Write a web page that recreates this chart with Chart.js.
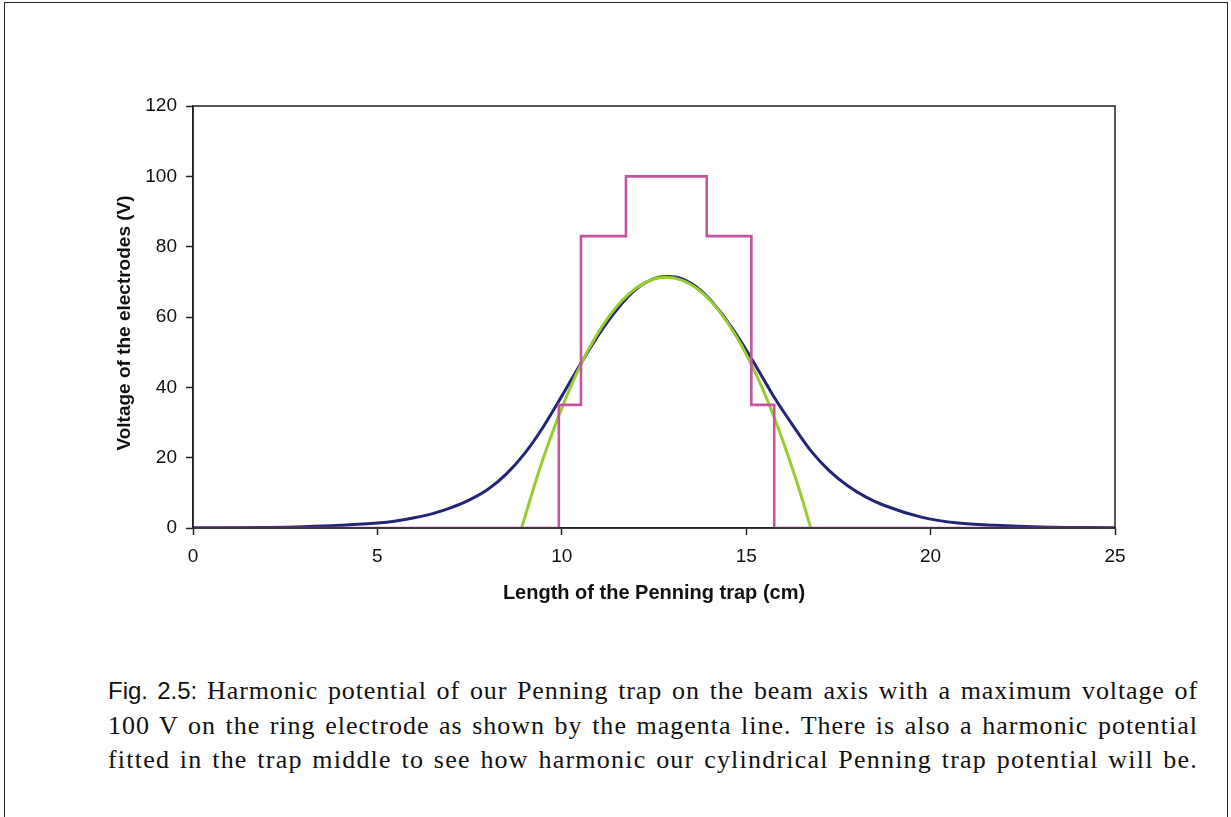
<!DOCTYPE html>
<html>
<head>
<meta charset="utf-8">
<script src="https://cdn.jsdelivr.net/npm/chart.js@4.4.1/dist/chart.umd.min.js"></script>
<style>
  html, body { margin: 0; padding: 0; background: #fff; }
  body { width: 1231px; height: 817px; position: relative; overflow: hidden; }
  #frame { position: absolute; left: 4px; top: 2px; width: 1224px; height: 840px; border: 1.5px solid #222; box-sizing: border-box; }
  #chart { position: absolute; left: 0; top: 0; }
  #caption { position: absolute; left: 108px; top: 674px; width: 1090px; font-family: "Liberation Serif", serif; font-size: 26px; color: #111; }
  #caption div { height: 34.5px; line-height: 34.5px; text-align: justify; text-align-last: justify; white-space: nowrap; }
  #caption span.in { display: inline-block; }
  .sans { font-family: "Liberation Sans", Arial, sans-serif; font-size: 24px; letter-spacing: 0; }
</style>
</head>
<body>
<div id="frame"></div>
<canvas id="chart" width="1231" height="640"></canvas>
<div id="caption">
  <div><span class="sans">Fig. 2.5:</span> Harmonic potential of our Penning trap on the beam axis with a maximum voltage of</div>
  <div>100 V on the ring electrode as shown by the magenta line. There is also a harmonic potential</div>
  <div>fitted in the trap middle to see how harmonic our cylindrical Penning trap potential will be.</div>
</div>
<script>
// ---- data ----
const xTicks = [0, 5, 10, 15, 20, 25];
const yTicks = [0, 20, 40, 60, 80, 100, 120];

// electrode voltages (magenta step line)
const electrodeX = [0, 9.92, 9.92, 10.52, 10.52, 11.74, 11.74, 13.93, 13.93, 15.14, 15.14, 15.76, 15.76, 25];
const electrodeY = [0, 0, 35, 35, 83, 83, 100, 100, 83, 83, 35, 35, 0, 0];

// potential on the beam axis (dark blue curve)
const potentialX = [0, 2, 3, 4, 5, 5.5, 6, 6.5, 7, 7.5, 8, 8.5, 9, 9.5, 10, 10.5, 11, 11.5, 12, 12.5, 12.87,
                    13.25, 13.75, 14.25, 14.75, 15.25, 15.75, 16.25, 16.75, 17.25, 17.75, 18.25, 18.75, 19.75, 20.75, 21.75, 23, 25];
const potentialY = [0.05, 0.15, 0.35, 0.75, 1.4, 2.0, 2.9, 4.1, 5.8, 8.0, 11.0, 15.4, 21.3, 28.8, 37.5, 46.5, 55.0, 62.2, 67.8, 70.9, 71.5,
                    70.9, 67.7, 62.1, 54.8, 46.3, 37.3, 29.4, 22.0, 16.3, 12.0, 8.8, 6.4, 3.1, 1.4, 0.75, 0.3, 0.1];

// fitted harmonic potential (green curve)
const harmonicX = [8.91, 9.25, 9.5, 10, 10.5, 11, 11.5, 12, 12.5, 12.83, 13.25, 13.75, 14.25, 14.75, 15.25, 15.75, 16.25, 16.5, 16.75];
const harmonicY = [0, 11.8, 19.9, 34.1, 46.1, 55.8, 63.1, 68.1, 70.8, 71.3, 70.5, 67.4, 61.9, 54.2, 44.1, 31.7, 17.0, 8.8, 0];

const xTitle = "Length of the Penning trap (cm)";
const yTitle = "Voltage of the electrodes (V)";

function pts(xs, ys) { return xs.map((x, i) => ({ x: x, y: ys[i] })); }

const framePlugin = {
  id: 'framePlugin',
  afterDraw(chart) {
    const { ctx, chartArea: a } = chart;
    ctx.save();
    ctx.strokeStyle = '#222';
    ctx.lineWidth = 1.5;
    ctx.strokeRect(a.left, a.top, a.right - a.left, a.bottom - a.top);
    ctx.restore();
  }
};

// y-axis title drawn centred where the reference has it
const yTitlePlugin = {
  id: 'yTitlePlugin',
  afterDraw(chart) {
    const { ctx, chartArea: a } = chart;
    ctx.save();
    ctx.font = 'bold 19px "Liberation Sans", Arial, sans-serif';
    ctx.fillStyle = '#111';
    ctx.textAlign = 'center';
    ctx.textBaseline = 'middle';
    ctx.translate(125, (a.top + a.bottom) / 2 + 6);
    ctx.rotate(-Math.PI / 2);
    ctx.fillText(yTitle, 0, 0);
    ctx.restore();
  }
};

new Chart(document.getElementById('chart'), {
  type: 'scatter',
  data: {
    datasets: [
      { label: 'electrodes', data: pts(electrodeX, electrodeY), showLine: true, tension: 0,
        borderColor: '#c4549f', borderWidth: 2.6, pointRadius: 0, fill: false },
      { label: 'harmonic', data: pts(harmonicX, harmonicY), showLine: true, cubicInterpolationMode: 'monotone',
        borderColor: '#99cc33', borderWidth: 3, pointRadius: 0, fill: false },
      { label: 'potential', data: pts(potentialX, potentialY), showLine: true, cubicInterpolationMode: 'monotone',
        borderColor: '#232577', borderWidth: 3, pointRadius: 0, fill: false }
    ]
  },
  options: {
    responsive: false,
    devicePixelRatio: 1,
    animation: false,
    layout: { padding: { left: 110, right: 116, top: 106, bottom: 32 } },
    plugins: { legend: { display: false }, tooltip: { enabled: false } },
    scales: {
      x: {
        type: 'linear', min: 0, max: 25,
        afterBuildTicks(s) { s.ticks = xTicks.map(v => ({ value: v })); },
        afterFit(s) { s.height = 80; },
        grid: { drawOnChartArea: false, drawTicks: true, tickLength: 7, tickColor: '#222', tickWidth: 1.5 },
        border: { display: true, color: '#222', width: 1.5 },
        ticks: { color: '#111', padding: 10, maxRotation: 0, font: { family: 'Liberation Sans', size: 19 } },
        title: { display: true, text: xTitle, color: '#111', padding: { top: 0, bottom: 3 },
                 font: { family: 'Liberation Sans', size: 20, weight: 'bold' } }
      },
      y: {
        type: 'linear', min: 0, max: 120,
        afterBuildTicks(s) { s.ticks = yTicks.map(v => ({ value: v })); },
        afterFit(s) { s.width = 83; },
        grid: { drawOnChartArea: false, drawTicks: true, tickLength: 7, tickColor: '#222', tickWidth: 1.5 },
        border: { display: true, color: '#222', width: 1.5 },
        ticks: { color: '#111', padding: 9, font: { family: 'Liberation Sans', size: 19 } },
        title: { display: false }
      }
    }
  },
  plugins: [framePlugin, yTitlePlugin]
});

// widen the caption letters a little so that words are not spread apart
document.querySelectorAll('#caption div').forEach(line => {
  const probe = document.createElement('span');
  probe.innerHTML = line.innerHTML;
  probe.style.whiteSpace = 'nowrap';
  probe.style.visibility = 'hidden';
  probe.style.position = 'absolute';
  document.getElementById('caption').appendChild(probe);
  const w = probe.getBoundingClientRect().width;
  const n = probe.textContent.length;
  probe.remove();
  const spaces = (probe.textContent.match(/ /g) || []).length;
  const ls = Math.max(0, Math.min(2, (1090 - w - spaces * 2) / n));
  line.style.letterSpacing = ls.toFixed(2) + 'px';
});
</script>
</body>
</html>
